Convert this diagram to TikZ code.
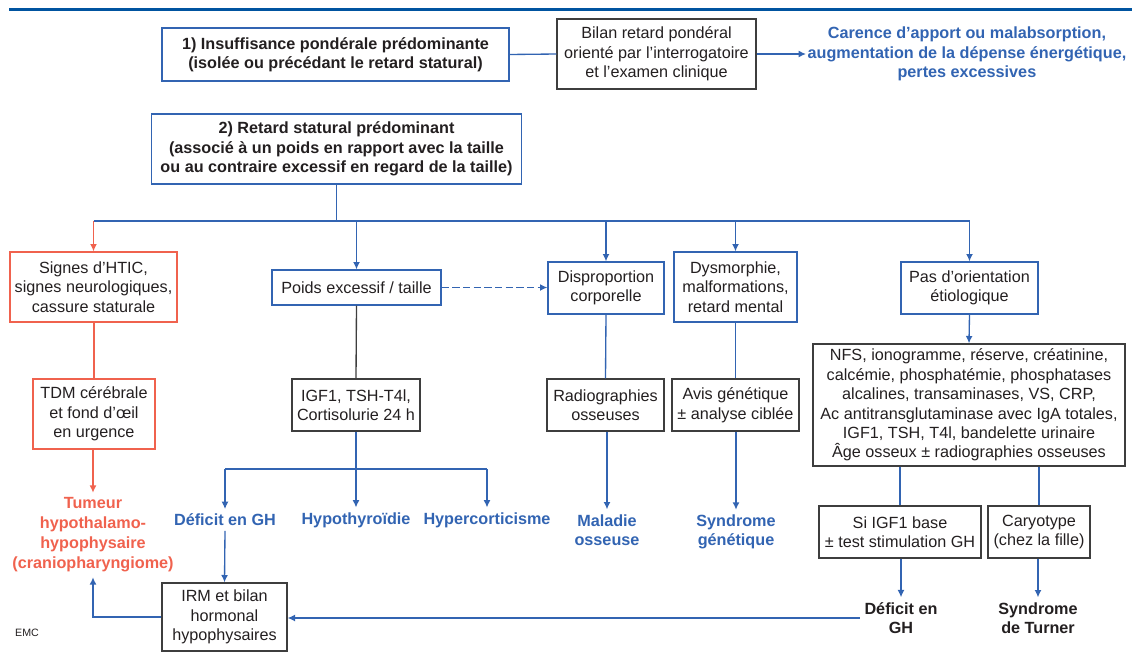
\documentclass[tikz,border=0pt]{standalone}
\usepackage{fontspec}
\setmainfont{Liberation Sans}
\usetikzlibrary{arrows.meta}

\definecolor{emcblue}{RGB}{50,100,178}
\definecolor{emcred}{RGB}{240,98,78}
\definecolor{topblue}{RGB}{0,84,160}
\definecolor{ink}{RGB}{35,31,32}
\definecolor{edge}{RGB}{62,62,62}

\tikzset{
  bx/.style 2 args={rectangle,draw,inner sep=0pt,align=center,text=ink,line width=1pt,
    minimum width=#1*0.75pt,minimum height=#2*0.75pt},
  bbox/.style={draw=emcblue},
  rbox/.style={draw=emcred},
  kbox/.style={draw=edge},
  res/.style={align=center,font=\bfseries,text=emcblue,inner sep=3.5pt},
  ln/.style={draw=emcblue,line width=1pt},
  lnr/.style={draw=emcred,line width=1pt},
  lnk/.style={draw=edge,line width=1pt},
  arr/.style={-{Latex[length=5.5pt,width=5.2pt]}},
}

\begin{document}
\fontsize{12.15}{14.6}\selectfont
\begin{tikzpicture}[x=0.75pt,y=-0.75pt]
\useasboundingbox (0,0) rectangle (1132,653);

\path[draw=topblue,line width=2.2pt] (9,9.5) -- (1132,9.5);

%partie 1
\node[bx={347}{53},bbox,font=\bfseries] (ins) at (335.5,54.5) {1) Insuffisance pondérale prédominante\\(isolée ou précédant le retard statural)};
\node[bx={199}{70},kbox] (bilan) at (656.5,54) {Bilan retard pondéral\\orienté par l'interrogatoire\\et l'examen clinique};
\node[res,anchor=west,inner sep=1pt] (carence) at (806,54) {Carence d'apport ou malabsorption,\\augmentation de la dépense énergétique,\\pertes excessives};
\draw[ln] (ins.east) -- (bilan.west);
\draw[ln,arr] (bilan.east) -- (carence.west);

%partie 2
\node[bx={370}{70},bbox,font=\bfseries] (ret) at (336.5,149) {2) Retard statural prédominant\\(associé à un poids en rapport avec la taille\\ou au contraire excessif en regard de la taille)};

\node[bx={167}{70},rbox] (htic) at (93.5,287) {Signes d'HTIC,\\signes neurologiques,\\cassure staturale};
\node[bx={169}{35},bbox] (poids) at (356.5,287.5) {Poids excessif / taille};
\node[bx={116}{52},bbox] (disp) at (606,288) {Disproportion\\corporelle};
\node[bx={123}{70},bbox] (dysm) at (735.5,287) {Dysmorphie,\\malformations,\\retard mental};
\node[bx={137}{52},bbox] (pas) at (969.5,288) {Pas d'orientation\\étiologique};

%bus
\coordinate (bus) at (336.5,221);
\draw[ln] (ret.south) -- (bus);
\draw[ln] (htic.north |- bus) -- (pas.north |- bus);
\draw[lnr,arr] (htic.north |- bus) -- (htic.north);
\foreach \n in {poids,disp,dysm,pas}
  \draw[ln,arr] (\n.north |- bus) -- (\n.north);
\draw[ln,arr,dash pattern=on 5.5pt off 2.5pt] (poids.east) -- (poids.east -| disp.west);

%examens
\node[bx={122}{70},rbox] (tdm) at (94,414) {TDM cérébrale\\et fond d'œil\\en urgence};
\node[bx={128}{52},kbox] (igf) at (356,405) {IGF1, TSH-T4l,\\Cortisolurie 24 h};
\node[bx={117}{52},kbox] (radio) at (605.5,405) {Radiographies\\osseuses};
\node[bx={127}{52},kbox] (avis) at (735.5,405) {Avis génétique\\± analyse ciblée};
\node[bx={312}{122},kbox] (nfs) at (969,405) {NFS, ionogramme, réserve, créatinine,\\calcémie, phosphatémie, phosphatases\\alcalines, transaminases, VS, CRP,\\Ac antitransglutaminase avec IgA totales,\\IGF1, TSH, T4l, bandelette urinaire\\Âge osseux ± radiographies osseuses};

\draw[lnr] (htic.south -| tdm.north) -- (tdm.north);
\draw[lnk] (poids.south) -- (igf.north);
\draw[ln] (disp.south) -- (radio.north);
\draw[ln] (dysm.south) -- (avis.north);
\draw[ln,arr] (pas.south) -- (nfs.north);

%diagnostics
\node[res,text=emcred,font=\bfseries\fontsize{12.15}{15}\selectfont] (tum) at (93,535) {Tumeur\\hypothalamo-\\hypophysaire\\(craniopharyngiome)};
\node[res] (defgh) at (225,520) {Déficit en GH};
\node[res] (hypo) at (356,520) {Hypothyroïdie};
\node[res] (hyper) at (487,520) {Hypercorticisme};
\node[res] (mal) at (607,530) {Maladie\\osseuse};
\node[res] (synd) at (736,532) {Syndrome\\génétique};

\draw[lnr,arr] (tdm.south -| tum.north) -- (tum.north);
\coordinate (bus2) at (356,469);
\draw[ln] (igf.south) -- (bus2);
\draw[ln] (defgh.north |- bus2) -- (hyper.north |- bus2);
\foreach \n in {defgh,hypo,hyper}
  \draw[ln,arr] (\n.north |- bus2) -- (\n.north);
\draw[ln,arr] (radio.south -| mal.north) -- (mal.north);
\draw[ln,arr] (avis.south -| synd.north) -- (synd.north);

%bilan GH
\node[bx={162}{52},kbox] (sigf) at (900,532) {Si IGF1 base\\± test stimulation GH};
\node[bx={102}{52},kbox] (caryo) at (1039,532) {Caryotype\\(chez la fille)};
\node[res,text=ink] (defgh2) at (901,618) {Déficit en\\GH};
\node[res,text=ink] (turner) at (1038,618) {Syndrome\\de Turner};
\node[bx={125}{68},kbox] (irm) at (224.5,617) {IRM et bilan\\hormonal\\hypophysaires};

\draw[ln] (nfs.south -| sigf.north) -- (sigf.north);
\draw[ln] (nfs.south -| caryo.north) -- (caryo.north);
\draw[ln,arr] (sigf.south -| defgh2.north) -- (defgh2.north);
\draw[ln,arr] (caryo.south -| turner.north) -- (turner.north);
\draw[ln,arr] (defgh2.west) -- (defgh2.west -| irm.east);
\draw[ln,arr] (defgh.south) -- (irm.north);
\draw[ln,arr] (irm.west) -| (tum.south);

\node[text=ink,font=\fontsize{8}{9}\selectfont] (emc) at (27,633) {EMC};

\end{tikzpicture}
\end{document}
